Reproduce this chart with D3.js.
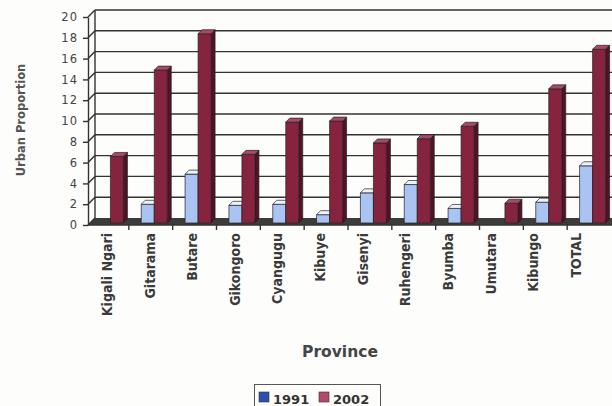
<!DOCTYPE html>
<html>
  <head>
    <meta charset="utf-8">
    <title>Urban proportion by province</title>
    <script src="https://d3js.org/d3.v7.min.js"></script>
    <style>
      body { margin: 0; background: #fdfdfb; }
      svg { display: block; }
    </style>
  </head>
  <body>
    <div id="chart"></div>
    <script>
      // data
      const provinces = ["Kigali Ngari", "Gitarama", "Butare", "Gikongoro", "Cyangugu", "Kibuye",
        "Gisenyi", "Ruhengeri", "Byumba", "Umutara", "Kibungo", "TOTAL"];
      const series = ["1991", "2002"];
      const urban1991 = [0, 1.8, 4.7, 1.7, 1.8, 0.8, 2.9, 3.7, 1.4, 0, 2.0, 5.5];
      const urban2002 = [6.4, 14.7, 18.2, 6.6, 9.7, 9.8, 7.7, 8.1, 9.3, 1.9, 12.9, 16.7];
      const yTicks = [0, 2, 4, 6, 8, 10, 12, 14, 16, 18, 20];

      const width = 612, height = 406;
      const wallX = 7, wallY = -7;   // 3d depth of the back wall
      const barDepth = 4, barFront = 2;

      const svg = d3.select("#chart").append("svg")
        .attr("width", width)
        .attr("height", height);

      // scales
      const y = d3.scaleLinear().domain([0, 20]).range([225, 17]);
      const x = d3.scaleBand().domain(provinces).range([85, 611]);
      const xs = d3.scaleBand().domain(series).range([-9.5, 16.5]);
      const xLabel = d3.scalePoint().domain(provinces).range([107, 576]);

      const faces = {
        "1991": { front: "#a9c3f2", side: "#6d86c4", top: "#eef2fc" },
        "2002": { front: "#86243f", side: "#521226", top: "#a8486a" }
      };
      const legendCol = { "1991": "#2f4fb0", "2002": "#b24a6c" };

      // floor
      svg.append("polygon")
        .attr("points", [[88, y(0)], [width, y(0)], [width, y(0) + wallY], [88 + wallX, y(0) + wallY]].join(" "))
        .style("fill", "#3c3c3c");

      // gridlines on back wall and side wall
      const grid = svg.append("g")
        .style("stroke", "#333")
        .style("stroke-width", 1.4)
        .style("fill", "none");
      grid.selectAll(".hgrid")
        .data(yTicks.slice(1))
        .enter().append("line")
          .attr("x1", 88 + wallX)
          .attr("x2", width)
          .attr("y1", function(d) { return y(d) + wallY; })
          .attr("y2", function(d) { return y(d) + wallY; });
      grid.selectAll(".dgrid")
        .data(yTicks)
        .enter().append("line")
          .attr("x1", 88)
          .attr("x2", 88 + wallX)
          .attr("y1", function(d) { return y(d); })
          .attr("y2", function(d) { return y(d) + wallY; });
      grid.append("line")
        .attr("x1", 88 + wallX).attr("x2", 88 + wallX)
        .attr("y1", y(20) + wallY).attr("y2", y(0) + wallY);

      // y axis
      const yAxis = svg.append("g")
        .attr("transform", "translate(88,0)")
        .call(d3.axisLeft(y).tickValues(yTicks).tickSize(5).tickSizeOuter(0).tickPadding(5));
      yAxis.selectAll("path, line").style("stroke", "#333").style("stroke-width", 1.4);
      yAxis.selectAll("text")
        .style("font-family", "'DejaVu Sans', sans-serif")
        .style("font-size", "11.5px")
        .style("letter-spacing", "1px")
        .style("fill", "#444");

      // bars (zero values leave no visible column)
      const rows = [];
      provinces.forEach(function(p, i) {
        rows.push({ province: p, series: "1991", value: urban1991[i] });
        rows.push({ province: p, series: "2002", value: urban2002[i] });
      });
      const bw = xs.bandwidth();
      const bars = svg.append("g")
        .selectAll(".bar")
        .data(rows.filter(function(d) { return d.value > 0; }))
        .enter().append("g")
          .attr("class", "bar")
          .style("stroke", "#222")
          .style("stroke-width", 0.7)
          .style("stroke-linejoin", "round");
      function x0(d) { return x(d.province) + x.bandwidth() / 2 + xs(d.series); }
      function yb() { return y(0) - barFront; }
      function yt(d) { return y(d.value) - barFront; }
      bars.append("polygon")
        .attr("points", function(d) {
          return [[x0(d) + bw, yt(d)], [x0(d) + bw + barDepth, yt(d) - barDepth],
            [x0(d) + bw + barDepth, yb() - barDepth], [x0(d) + bw, yb()]].join(" ");
        })
        .style("fill", function(d) { return faces[d.series].side; });
      bars.append("rect")
        .attr("x", x0)
        .attr("y", yt)
        .attr("width", bw)
        .attr("height", function(d) { return yb() - yt(d); })
        .style("fill", function(d) { return faces[d.series].front; });
      bars.append("polygon")
        .attr("points", function(d) {
          return [[x0(d), yt(d)], [x0(d) + barDepth, yt(d) - barDepth],
            [x0(d) + bw + barDepth, yt(d) - barDepth], [x0(d) + bw, yt(d)]].join(" ");
        })
        .style("fill", function(d) { return faces[d.series].top; });

      // x axis front edge and ticks
      svg.append("line")
        .attr("x1", 88).attr("x2", width)
        .attr("y1", y(0)).attr("y2", y(0))
        .style("stroke", "#333").style("stroke-width", 1.4);
      svg.selectAll(".xtick")
        .data(provinces.slice(1))
        .enter().append("line")
          .attr("x1", function(d) { return x(d); })
          .attr("x2", function(d) { return x(d); })
          .attr("y1", y(0))
          .attr("y2", y(0) + 5)
          .style("stroke", "#333").style("stroke-width", 1.4);
      svg.selectAll(".xlabel")
        .data(provinces)
        .enter().append("text")
          .attr("transform", function(d) { return "translate(" + xLabel(d) + ",233) rotate(-90)"; })
          .attr("dy", "0.35em")
          .attr("text-anchor", "end")
          .style("font-family", "'DejaVu Sans Condensed', 'Liberation Sans Narrow', sans-serif")
          .style("font-weight", "bold")
          .style("font-size", "14px")
          .style("fill", "#3a3a3a")
          .text(function(d) { return d; });

      // axis titles
      svg.append("text")
        .attr("transform", "translate(25,120) rotate(-90)")
        .attr("text-anchor", "middle")
        .style("font-family", "'DejaVu Sans', sans-serif")
        .style("font-weight", "bold")
        .style("font-size", "11.5px")
        .style("fill", "#555")
        .text("Urban Proportion");
      svg.append("text")
        .attr("x", 340)
        .attr("y", 357)
        .attr("text-anchor", "middle")
        .style("font-family", "'DejaVu Sans', sans-serif")
        .style("font-weight", "bold")
        .style("font-size", "15.5px")
        .style("fill", "#444")
        .text("Province");

      // legend
      const legend = svg.append("g");
      legend.append("rect")
        .attr("x", 254.5).attr("y", 384.5)
        .attr("width", 126).attr("height", 30)
        .style("fill", "#fdfdfb")
        .style("stroke", "#555");
      const item = legend.selectAll(".item")
        .data(series)
        .enter().append("g")
          .attr("transform", function(d, i) { return "translate(" + (259 + i * 60) + ",0)"; });
      item.append("rect")
        .attr("x", 0).attr("y", 392)
        .attr("width", 10).attr("height", 10)
        .style("fill", function(d) { return legendCol[d]; })
        .style("stroke", "#333").style("stroke-width", 0.6);
      item.append("text")
        .attr("x", 14).attr("y", 404)
        .style("font-family", "'DejaVu Sans', sans-serif")
        .style("font-weight", "bold")
        .style("font-size", "13px")
        .style("fill", "#333")
        .text(function(d) { return d; });
    </script>
  </body>
</html>
